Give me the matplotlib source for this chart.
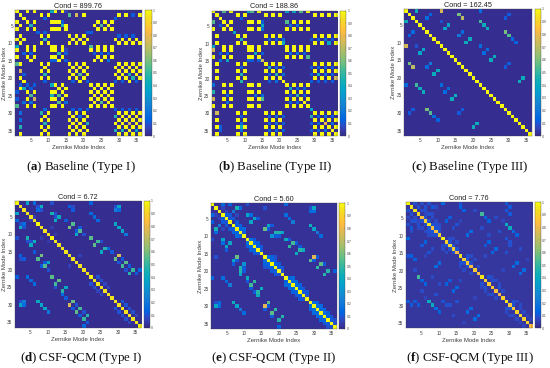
import numpy as np
import matplotlib
matplotlib.use("Agg")
import matplotlib.pyplot as plt
from matplotlib.colors import LinearSegmentedColormap

plt.rcParams['font.family'] = ['Liberation Sans', 'DejaVu Sans']
plt.rcParams['mathtext.fontset'] = 'custom'
plt.rcParams['mathtext.rm'] = 'Liberation Serif'
plt.rcParams['mathtext.bf'] = 'Liberation Serif:bold'

PARULA = [(0.2081,0.1663,0.5292),(0.2116,0.1898,0.5777),(0.2123,0.2138,0.6270),(0.2081,0.2386,0.6771),
 (0.1959,0.2645,0.7279),(0.1707,0.2919,0.7792),(0.1253,0.3242,0.8303),(0.0591,0.3598,0.8683),
 (0.0117,0.3875,0.8820),(0.0060,0.4086,0.8828),(0.0165,0.4266,0.8786),(0.0329,0.4430,0.8720),
 (0.0498,0.4586,0.8641),(0.0629,0.4737,0.8554),(0.0723,0.4887,0.8467),(0.0779,0.5040,0.8384),
 (0.0793,0.5200,0.8312),(0.0749,0.5375,0.8263),(0.0641,0.5570,0.8240),(0.0488,0.5772,0.8228),
 (0.0343,0.5966,0.8199),(0.0265,0.6137,0.8135),(0.0239,0.6287,0.8038),(0.0231,0.6418,0.7913),
 (0.0228,0.6535,0.7768),(0.0267,0.6642,0.7607),(0.0384,0.6743,0.7436),(0.0590,0.6838,0.7254),
 (0.0843,0.6928,0.7062),(0.1133,0.7015,0.6859),(0.1453,0.7098,0.6646),(0.1801,0.7177,0.6424),
 (0.2178,0.7250,0.6193),(0.2586,0.7317,0.5954),(0.3022,0.7376,0.5712),(0.3482,0.7424,0.5473),
 (0.3953,0.7459,0.5244),(0.4420,0.7481,0.5033),(0.4871,0.7491,0.4840),(0.5300,0.7491,0.4661),
 (0.5709,0.7485,0.4494),(0.6099,0.7473,0.4337),(0.6473,0.7456,0.4188),(0.6834,0.7435,0.4044),
 (0.7184,0.7411,0.3905),(0.7525,0.7384,0.3768),(0.7858,0.7356,0.3633),(0.8185,0.7327,0.3498),
 (0.8507,0.7299,0.3360),(0.8824,0.7274,0.3217),(0.9139,0.7258,0.3063),(0.9450,0.7261,0.2886),
 (0.9739,0.7314,0.2666),(0.9938,0.7455,0.2403),(0.9990,0.7653,0.2164),(0.9955,0.7861,0.1967),
 (0.9880,0.8066,0.1794),(0.9789,0.8271,0.1633),(0.9697,0.8481,0.1475),(0.9626,0.8705,0.1309),
 (0.9589,0.8949,0.1132),(0.9598,0.9218,0.0948),(0.9661,0.9514,0.0755),(0.9763,0.9831,0.0538)]
parula = LinearSegmentedColormap.from_list("parula", PARULA, N=256)

TICKS = [5, 10, 15, 20, 25, 30, 35]
CBAR_TICKS = [0, 0.1, 0.2, 0.3, 0.4, 0.5, 0.6, 0.7, 0.8, 0.9, 1]
CBAR_LABELS = ['0', '0.1', '0.2', '0.3', '0.4', '0.5', '0.6', '0.7', '0.8', '0.9', '1']

TITLES = ["Cond = 899.76", "Cond = 188.86", "Cond = 162.45", "Cond = 6.72", "Cond = 5.60", "Cond = 7.76"]
LETTERS = ["a", "b", "c", "d", "e", "f"]
CAPTIONS = ["Baseline (Type I)", "Baseline (Type II)", "Baseline (Type III)",
            "CSF-QCM (Type I)", "CSF-QCM (Type II)", "CSF-QCM (Type III)"]

# read levels of the cells in the two dense panels
LEVELS = {'.': .012, '1': .06, '2': .12, '3': .17, '4': .4, '5': .47, '6': .55, '7': .75, '8': .82, 'X': 1.0}

ROWS_A = [
 "X..X. X.... 4X.X1 ..... ..... ..... ..... .",
 ".X... ..X.X ..... 6.7.X ..... ....X .X.2. X",
 "..X.. ...2. ..... ..... ..... ...2. ..... .",
 "X..X. X.... XXX2. ..... ...X. X.X.. ..... .",
 ".X..5 ..... ...5X ..... ..X.6 .X... ..... .",
 "X..X. X.... XXX.X ..... ...X. X.X.. ..... .",
 "..... .2.2. ..... ..... 22... ..... ..... .",
 ".X... ..X.X ..... X.X.X ..... ....2 .2.2. .",
 "X.X.. ...5. ..... .X.X. X.... ...X. X.X.X .",
 ".X... ..X.X ..... X.X.X ..... ....X .X.X. X",
 "4..X. X.... XX.X. ..... .6.X. X.X.. ..... .",
 "X..X. X.... XX.X1 ..... .X.X. X.X.. ..... .",
 "..2.2 ..... ..5.2 ..... ..2.2 .2... ..... .",
 "X..X. X.... XX.X. ..... ...X. X.X.. ..... .",
 "....X ..... 22X.2 ..... ..X.X .3... ..... .",
 "6X... ..X.X ..... X.X.X ..... ....X .X.X. X",
 "..... ...X. ..... .X.X. X.... ...X. X.X.X .",
 ".7... ..X.X ..... X.X.X ..... ....X .X.X. X",
 "..2.. ...5. ..... .X.6. X.... ...X. X.5.X .",
 ".X... ..X.X ..... X.X.X ..... ....X .X.5. X",
 "..X.. ...2. ..... .2.X. 2.... ...2. 2.X.2 .",
 ".2.2. 2.... 4X.X. ..... .X.X. X.X.. ..... .",
 ".X4.2 ..... ..X.X ..... ..X.X .X... ..... .",
 "2..X. X.... XX.X. ..... .X.X. X.X.. ..... .",
 "....6 ..... 5.6.X ..... ..X.X .X... ..... .",
 "2..X. 7.... XX.X. ..... .X.X. X.X.. ..... .",
 "..3.3 ..... ..6.3 ..... ..X.6 .X... ..... .",
 "6..X. X.... XX.X. ..... .X.X. X.X.. ..... .",
 "..... ...3. ..... .2.2. 2.... ...2. 2.2.2 .",
 ".3... ..5.X ..... X.X.X ..... ....X .X.X. X",
 "..... ...X. ..... .X.3. X.... ...5. X.X.X .",
 ".3... ..X.X ..... X.X.X ..... ....X .X.X. X",
 "..... ...5. ..... .X.X. 5.... ...X. X.7.X .",
 ".5... ..X.X ..... X.X.X ..... ....X .X.X. X",
 "..... ...X. ..... .X.X. X.... ...5. 5.X.4 .",
 ".X... ..X.X ..... X.X.X ..... ....X .X.X. X",
]
ROWS_B = [
 "X..6. X.... 46.X. ..... .4.4. 6.X.. ..... .",
 ".X... ..X.X ..... X.X.X ..... ....X .X.X. X",
 "..X.. ...2. ..... ..... ..... ..... ..... .",
 "6..X. X.... XX.X2 ..... .6.X. X.X.. ..... .",
 "..2.X ..... ....4 ..... ..3.3 ..... ..... .",
 "X..X. X.... XX.X3 ..... .X.X. X.X.. ..... .",
 "..... .4... ..... ..... ..... ..... ..... .",
 ".X... ..X.X ..... X.X.X ..... ....X .X.X. X",
 "..... ...5. ..... .2.2. 3.... ...2. 2.3.2 .",
 ".X... ..X.X ..... X.X.X 4.... ....X .X.4. X",
 "4..X. X.... XX.X. ..... .X.X. X.X.. ..... .",
 "7..X. X.... XX.X. ..... .X.X. X.X.. ..... .",
 "..2.2 ..... ..4.2 ..... ..3.3 .2... ..... .",
 "X..X. X.... XX.X. ..... .X.X. X.6.. ..... .",
 "..3.4 ..... 22.27 ..... ..... ..... ..... .",
 ".X... ..X.X ..... X.X.X ..... ....X .X.X. X",
 "..... ...2. ..... .4.2. 2.... ...2. 2.2.2 .",
 ".X... ..X.X ..... X.X.X ..... ....X .X.X. X",
 "..... ...5. ..... .2.5. 3.... ...2. 4.3.2 .",
 ".X... ..X.X ..... X.X.X ..... ....X .X.X. 7",
 "..... ...5. ..... .2.3. X.... ...2. 2.2.2 .",
 "3..X. X.... XX.X. ..... .X.X. X.X.. ..... .",
 "..... ..... ..... ..... ..4.2 .2... ..... .",
 "5..X. X.... XX.X. ..... .X.X. X.X.. ..... .",
 "....3 ..... ..3.3 ..... ..2.5 .2... ..... .",
 "7..X. X.... XX.X6 ..... .X.X. X.X.. ..... .",
 "....3 ..... ..... ..... ..2.2 .X... ..... .",
 "X..X. X.... XX.X. ..... .X.X. X.X.. ..... .",
 "..... ..... ..... ..... ..... ...4. ..... .",
 ".7... ..X.X ..... X.X.X ..... ....X .X.X. X",
 "..... ...2. ..... .2.3. 2.... ...5. 2.3.2 .",
 ".X... ..X.X ..... X.X.X ..... ....X .X.X. X",
 "..... ...3. ..... .2.3. 2.... ...2. 2.8.3 .",
 ".X2.. ..X4X ..... X.X.X ..... ....X .X.X. X",
 "..2.. ...3. ..... .2.3. 2.... ...2. 2.3.X .",
 ".X... ..X.X ..... X.X.X ..... ....X .X.X. X",
]

# (row, col, value) in the upper triangle; the matrices are symmetric
PAIRS_C = [(1,4,.42),(1,11,.75),(1,22,.16),(2,8,.13),(2,16,.6),(2,30,.11),(3,7,.16),(3,17,.7),(3,29,.11),
 (4,11,.09),(4,22,.52),(5,13,.38),(5,23,.42),(6,12,.38),(6,24,.42),(7,17,.16),(7,29,.6),(8,16,.2),(8,30,.55),
 (9,31,.16),(10,32,.13),(10,18,.42),(9,19,.42),(11,22,.16),(12,24,.16),(13,23,.16),(14,26,.42),(15,25,.42),
 (16,30,.11),(17,29,.11),(20,34,.42),(21,33,.42)]
DIAG_C = [1]*36
BG_C = 0.015

PAIRS_D = [(1,4,.38),(1,6,.16),(1,11,.09),(1,22,.13),(2,8,.42),(2,16,.13),(2,17,.08),(2,30,.38),(3,7,.16),(3,17,.11),(3,29,.22),
 (4,11,.45),(4,22,.16),(5,13,.42),(5,23,.16),(6,12,.42),(6,24,.16),(6,15,.11),(7,17,.55),(7,29,.4),(8,16,.6),(8,30,.38),
 (9,31,.38),(10,32,.2),(9,19,.55),(10,18,.4),(9,18,.11),(8,19,.11),(10,20,.09),(11,22,.56),(12,24,.52),(13,23,.56),
 (14,26,.48),(15,25,.4),(14,27,.16),(15,28,.11),(12,25,.09),(16,30,.75),(17,29,.58),(18,32,.56),(19,31,.53),(20,34,.5),(21,33,.48),
 (20,36,.16),(2,29,.09),(3,30,.16),(2,7,.09),(3,8,.09),(4,12,.09),(5,12,.09),(17,31,.11),(18,30,.1),(19,33,.11),
 (20,32,.09),(21,35,.11),(5,6,.05),(29,31,.1),(30,32,.1),(31,33,.09),(32,34,.09),(33,35,.07),(16,19,.06),(8,11,.05),
 (22,24,.09),(23,25,.09),(24,26,.07),(25,27,.07),(10,12,.05)]
DIAG_D = [1,.95,.95,.95,.95,.95,1,.95,.95,.95,1,.95,.95,.95,.95,.95,.95,.95,.95,.95,.95,1,.95,.95,.95,.95,.95,.95,.95,.95,.95,.95,.95,.95,.95,1]
BG_D = 0.015

PAIRS_E = [(1,4,.16),(1,6,.13),(1,11,.09),(1,22,.16),(2,8,.45),(2,9,.16),(2,16,.09),(2,30,.38),(3,7,.22),(3,29,.16),
 (4,11,.38),(4,12,.16),(4,22,.16),(5,13,.38),(5,14,.11),(5,23,.16),(6,12,.38),(6,24,.22),(7,17,.38),(7,29,.42),(8,16,.58),(8,30,.38),
 (9,31,.22),(10,32,.16),(9,19,.47),(9,20,.47),(9,21,.38),(10,18,.3),(11,22,.42),(12,24,.53),(13,23,.5),(14,26,.48),(15,25,.42),(14,27,.42),
 (16,30,.78),(17,29,.56),(18,32,.56),(19,31,.5),(20,34,.48),(21,33,.48),(3,30,.16),(2,29,.09),
 (4,5,.11),(4,6,.11),(5,6,.09),(5,7,.11),(6,8,.11),(7,8,.11),(7,9,.13),(8,9,.13),(8,10,.16),(9,10,.11),
 (11,12,.16),(11,13,.11),(12,13,.16),(12,14,.13),(13,14,.13),(13,15,.11),(14,15,.11),
 (16,17,.16),(16,18,.13),(17,18,.13),(17,19,.11),(18,19,.13),(18,20,.11),(19,20,.11),(19,21,.11),(20,21,.09),
 (22,23,.13),(22,24,.16),(23,24,.16),(23,25,.16),(24,25,.16),(24,26,.13),(25,26,.13),(25,27,.11),(26,27,.11),(26,28,.11),(27,28,.09),
 (29,30,.16),(29,31,.13),(30,31,.16),(30,32,.16),(31,32,.16),(31,33,.16),(32,33,.16),(32,34,.13),(33,34,.13),(33,35,.11),(34,35,.11),(34,36,.09),(35,36,.09),
 (16,31,.11),(18,33,.11),(20,36,.13),(17,30,.11),(16,19,.09),(7,18,.11),(8,17,.11),(10,19,.11),(10,20,.11),(11,23,.11),(12,25,.11),(13,26,.11),(2,4,.07),(3,5,.07),(4,8,.07)]
DIAG_E = [1]*36
BG_E = 0.02

PAIRS_F = [(4,22,.52),(5,23,.13),(6,24,.13),(7,29,.42),(8,30,.42),(9,31,.16),(10,32,.13),(1,11,.16),(2,16,.13),(3,17,.13),(2,8,.11),
 (5,13,.11),(6,12,.13),(10,18,.16),(9,19,.16),(13,23,.11),(12,24,.13),(15,25,.15),(14,26,.15),(18,32,.16),(19,31,.16),(20,34,.16),(21,33,.16),
 (3,29,.11),(2,30,.11),(4,30,.11),
 (1,3,.09),(1,5,.08),(1,7,.09),(2,4,.09),(2,6,.09),(2,9,.08),(3,5,.08),(3,6,.09),(4,6,.07),(4,7,.09),(4,8,.08),(5,6,.09),(5,8,.08),
 (6,7,.09),(6,9,.08),(7,8,.1),(7,9,.09),(7,10,.08),(8,9,.1),(8,10,.09),(9,10,.09),(11,13,.08),(11,14,.08),(12,13,.09),(12,15,.08),(13,14,.09),(14,15,.09),
 (16,18,.09),(16,19,.08),(17,18,.09),(17,20,.08),(18,19,.09),(19,21,.08),(22,24,.09),(22,25,.07),(23,25,.09),(23,26,.08),(24,27,.08),(25,27,.09),(26,28,.08),
 (29,31,.09),(29,32,.08),(30,31,.09),(30,33,.08),(31,33,.08),(32,34,.08),(33,35,.07),(34,36,.07),(3,20,.08),(5,26,.08),(6,28,.07),(10,24,.08),(12,30,.09),
 (14,33,.08),(15,29,.09),(17,35,.07),(20,28,.07),(8,22,.08),(9,27,.09),(13,30,.09),(1,16,.1),(1,29,.11),(6,16,.07),(7,15,.1),(8,14,.08),(11,29,.1),(16,23,.08)]
DIAG_F = [1,.95,.95,.92,.85,.9,.95,.85,.85,.9,.98,.9,.92,.9,.82,.95,.9,.88,.85,.88,.85,.95,.9,.88,.88,.85,.82,.9,.95,.88,.88,.9,.92,.9,.9,.85]
BG_F = 0.035

def from_rows(rows):
    m = np.zeros((36, 36))
    for r, s in enumerate(rows):
        for c, ch in enumerate(s.replace(" ", "")):
            m[r, c] = LEVELS[ch]
    return m

def from_pairs(pairs, diag, bg):
    m = np.full((36, 36), float(bg))
    for r, c, v in pairs:
        m[r-1, c-1] = v
        m[c-1, r-1] = v
    for i, v in enumerate(diag):
        m[i, i] = v
    return m

MATS = [from_rows(ROWS_A), from_rows(ROWS_B), from_pairs(PAIRS_C, DIAG_C, BG_C),
        from_pairs(PAIRS_D, DIAG_D, BG_D), from_pairs(PAIRS_E, DIAG_E, BG_E), from_pairs(PAIRS_F, DIAG_F, BG_F)]

W, H = 550, 368
BOX = [(15.3,141.7,10,136,145,151.5,81,167),
       (211.7,337.3,10.7,136,340,346.3,275,167),
       (404.3,531.7,9,136,535,540.7,470,167),
       (14.7,141,201,327.7,144,150,81,358),
       (211,336.7,203.3,329,339.3,345.3,274,358),
       (405.7,531.7,202.3,328.3,535,540.7,470,358)]

def rect(x0, x1, y0, y1):
    return [x0/W, 1-y1/H, (x1-x0)/W, (y1-y0)/H]

fig = plt.figure(figsize=(W/100, H/100), dpi=100)
GREY = '#404040'
for m, t, l, cap, b in zip(MATS, TITLES, LETTERS, CAPTIONS, BOX):
    x0, x1, y0, y1, cx0, cx1, tx, ty = b
    ax = fig.add_axes(rect(x0, x1, y0, y1))
    im = ax.imshow(m, cmap=parula, vmin=0, vmax=1, aspect='auto', interpolation='nearest',
                   extent=(0.5, 36.5, 36.5, 0.5))
    ax.set_xticks(TICKS); ax.set_yticks(TICKS)
    ax.tick_params(direction='in', length=1.2, width=0.25, labelsize=3.3, pad=1.6, colors=GREY)
    ax.set_xlabel("Zernike Mode Index", fontsize=4.3, color=GREY, labelpad=1.6)
    ax.set_ylabel("Zernike Mode Index", fontsize=4.3, color=GREY, labelpad=0.4)
    ax.set_title(t, fontsize=5.2, color='#202020', pad=1.6)
    for s in ax.spines.values():
        s.set_linewidth(0.25); s.set_color(GREY)
    cax = fig.add_axes(rect(cx0, cx1, y0, y1))
    cb = fig.colorbar(im, cax=cax, ticks=CBAR_TICKS)
    cb.set_ticklabels(CBAR_LABELS)
    cb.ax.tick_params(direction='in', length=0.8, width=0.2, labelsize=2.4, pad=0.8, colors=GREY)
    cb.outline.set_linewidth(0.25); cb.outline.set_edgecolor(GREY)
    fig.text(tx/W, 1-ty/H, f"($\\mathbf{{{l}}}$) {cap}", fontsize=9.3, ha='center', va='center',
             family=['Liberation Serif'], color='#111111')

fig.savefig("out.png", dpi=100)
